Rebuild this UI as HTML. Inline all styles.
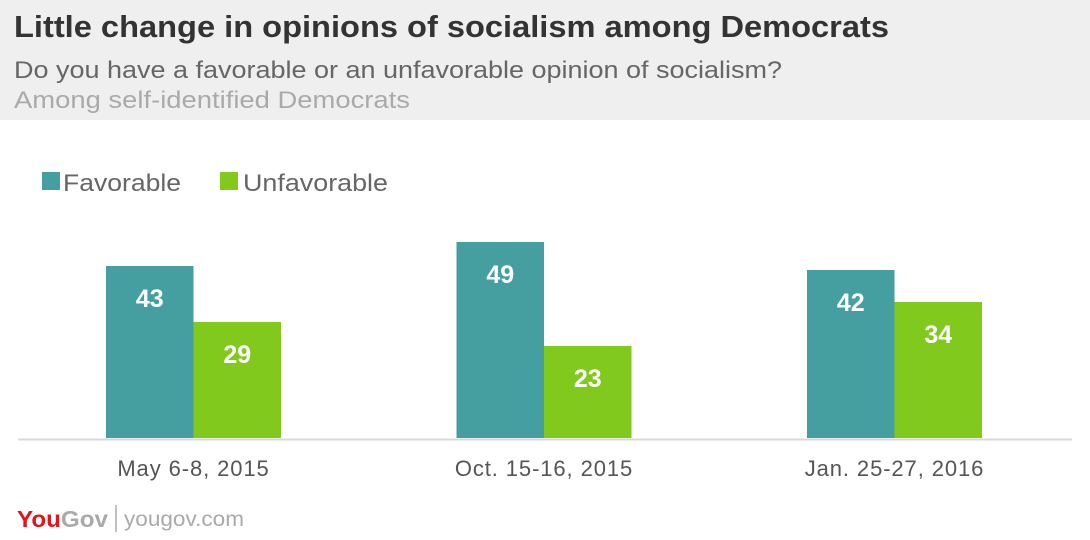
<!DOCTYPE html>
<html><head><meta charset="utf-8"><style>
body{margin:0;width:1090px;height:540px;background:#fff;font-family:"Liberation Sans",sans-serif;position:relative;overflow:hidden}
.hdr{position:absolute;left:0;top:0;width:1090px;height:120px;background:#efefef}
</style></head><body>
<div class="hdr"></div>
<svg id="c" width="1090" height="540" style="position:absolute;left:0;top:0">
<text x="14" y="37" font-size="31" font-weight="bold" fill="#333" textLength="875" lengthAdjust="spacingAndGlyphs">Little change in opinions of socialism among Democrats</text>
<text x="14" y="78" font-size="24" fill="#666" textLength="768" lengthAdjust="spacingAndGlyphs">Do you have a favorable or an unfavorable opinion of socialism?</text>
<text x="14" y="108" font-size="24" fill="#aaa" textLength="396" lengthAdjust="spacingAndGlyphs">Among self-identified Democrats</text>
<rect x="42" y="172" width="18" height="18" fill="#459e9f"/>
<text x="63" y="191" font-size="24" fill="#666" textLength="118" lengthAdjust="spacingAndGlyphs">Favorable</text>
<rect x="220" y="172" width="18" height="18" fill="#82c91e"/>
<text x="243" y="191" font-size="24" fill="#666" textLength="145" lengthAdjust="spacingAndGlyphs">Unfavorable</text>
<g id="bars"></g>
<line x1="18" y1="439.5" x2="1072" y2="439.5" stroke="#d8d8d8" stroke-width="2"/>
<text x="17" y="527" font-size="23" font-weight="bold" fill="#e5131b" textLength="91" lengthAdjust="spacingAndGlyphs">You<tspan fill="#aaa">Gov</tspan></text>
<line x1="116" y1="505" x2="116" y2="532" stroke="#aaa" stroke-width="1.5"/>
<text x="124" y="526" font-size="21" fill="#aaa" textLength="120" lengthAdjust="spacingAndGlyphs">yougov.com</text>
</svg>
<script>
const categories=["May 6-8, 2015","Oct. 15-16, 2015","Jan. 25-27, 2016"];
const favorable=[43,49,42];
const unfavorable=[29,23,34];
const ns="http://www.w3.org/2000/svg";
const g=document.getElementById('bars');
const base=438,scale=4,bw=87.5;
function gx(i){return 106+i*350.5;}
function y(v){return base-v*scale;}
function add(tag,attrs,txt){const e=document.createElementNS(ns,tag);for(const k in attrs)e.setAttribute(k,attrs[k]);if(txt!==undefined)e.textContent=txt;g.appendChild(e);return e;}
categories.forEach((c,i)=>{
 [[favorable[i],'#459e9f','favorable'],[unfavorable[i],'#82c91e','unfavorable']].forEach(([v,col,nm],j)=>{
  const x=gx(i)+j*bw;
  const r=add('rect',{x:x,y:y(v),width:bw,height:v*scale,fill:col});
  
  
  const t=add('text',{x:x+bw/2,y:y(v)+41,'text-anchor':'middle','font-size':25,'font-weight':'bold',fill:'#fff'},v);
  
  
 });
 const l=add('text',{x:gx(i)+bw,y:476,'text-anchor':'middle','font-size':22,'letter-spacing':0.9,fill:'#555'},c);
 
 
});
</script>
</body></html>
